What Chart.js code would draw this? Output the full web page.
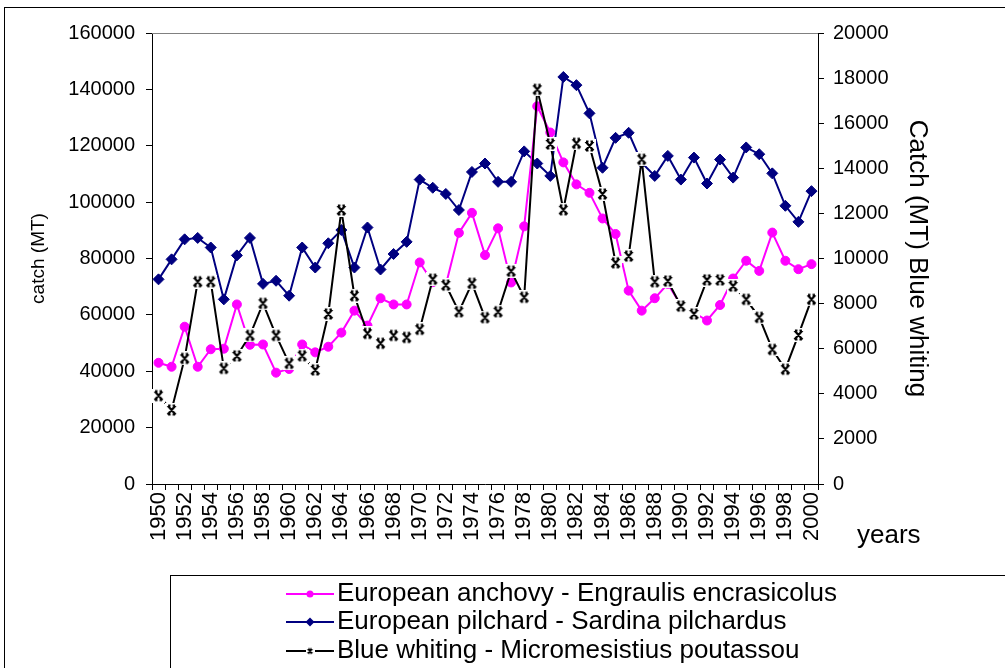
<!DOCTYPE html>
<html>
<head>
<meta charset="utf-8">
<script src="https://cdn.jsdelivr.net/npm/chart.js@4.4.0/dist/chart.umd.min.js"></script>
<style>
  html, body { margin: 0; padding: 0; background: #fff; }
  #wrap { width: 1005px; height: 668px; position: relative; }
</style>
</head>
<body>
<div id="wrap"><canvas id="chart"></canvas></div>
<script>
// Catch data 1950-2000
const years = ['1950','1951','1952','1953','1954','1955','1956','1957','1958','1959',
  '1960','1961','1962','1963','1964','1965','1966','1967','1968','1969',
  '1970','1971','1972','1973','1974','1975','1976','1977','1978','1979',
  '1980','1981','1982','1983','1984','1985','1986','1987','1988','1989',
  '1990','1991','1992','1993','1994','1995','1996','1997','1998','1999','2000'];

// left axis (MT)
const anchovy = [43000, 41600, 55800, 41600, 47800, 48000, 63700, 49400, 49500, 39500,
  40800, 49500, 46700, 48700, 53700, 61500, 56200, 65900, 63700, 63700,
  78600, 71600, 70600, 89100, 96200, 81200, 90700, 71500, 91400, 134000,
  124700, 114100, 106300, 103300, 94200, 88700, 68600, 61500, 65900, 71000,
  63500, 60800, 58000, 63500, 72900, 79200, 75600, 89200, 79200, 76200, 78000];

const pilchard = [72600, 79700, 86800, 87300, 83900, 65500, 81100, 87300, 71000, 72100,
  66800, 83900, 76800, 85400, 90100, 76800, 91000, 76100, 81600, 85900,
  108000, 105100, 102900, 97200, 110700, 113700, 107200, 107200, 118000, 113700,
  109300, 144400, 141500, 131500, 112200, 122800, 124600, 114000, 109300, 116400,
  108000, 115800, 106600, 115100, 108700, 119400, 117000, 110200, 98700, 93000, 103900];

// right axis (MT)
const blueWhiting = [3920, 3280, 5570, 8970, 8970, 5130, 5680, 6590, 8010, 6590,
  5350, 5690, 5060, 7540, 12150, 8350, 6680, 6240, 6590, 6500,
  6860, 9080, 8820, 7640, 8900, 7380, 7640, 9440, 8280, 17500,
  15080, 12160, 15110, 14990, 12860, 9810, 10110, 14400, 8970, 9000,
  7890, 7540, 9050, 9050, 8780, 8190, 7390, 5970, 5090, 6610, 8190];

const seriesNames = [
  'European anchovy - Engraulis encrasicolus',
  'European pilchard - Sardina pilchardus',
  'Blue whiting - Micromesistius poutassou'
];

const FONT = '"Liberation Sans", Arial, sans-serif';

// star marker with a white box behind it, as Excel draws it
function makeStar(w, h, box) {
  const c = document.createElement('canvas');
  c.width = w; c.height = h;
  const g = c.getContext('2d');
  if (box) { g.fillStyle = '#fff'; g.fillRect(0, 0, w, h); }
  g.strokeStyle = '#000';
  g.lineWidth = 2.2;
  const l = 2.5, r = w - 2.5, t = 2.5, b = h - 2.5, cx = w / 2;
  g.beginPath();
  g.moveTo(l, t); g.lineTo(r, b);
  g.moveTo(r, t); g.lineTo(l, b);
  g.moveTo(l + 0.5, t); g.lineTo(cx - 1, t);
  g.moveTo(cx + 1, t); g.lineTo(r - 0.5, t);
  g.moveTo(l + 0.5, b); g.lineTo(cx - 1, b);
  g.moveTo(cx + 1, b); g.lineTo(r - 0.5, b);
  g.stroke();
  return c;
}
const starMarker = makeStar(13, 14, true);
const starSmall = makeStar(9, 10, true);

const decorations = {
  id: 'decorations',
  afterDraw(chart) {
    const ctx = chart.ctx;
    const a = chart.chartArea;
    ctx.save();
    // outer frame
    ctx.strokeStyle = '#000';
    ctx.lineWidth = 1;
    ctx.strokeRect(4.5, 7.5, 1100, 800);
    // plot area top edge
    ctx.strokeStyle = '#808080';
    ctx.beginPath();
    ctx.moveTo(a.left, Math.round(a.top) + 0.5);
    ctx.lineTo(a.right, Math.round(a.top) + 0.5);
    ctx.stroke();

    // "years" label
    ctx.fillStyle = '#000';
    ctx.font = '26px ' + FONT;
    ctx.textBaseline = 'middle';
    ctx.textAlign = 'left';
    ctx.fillText('years', 857, 536);

    // legend box
    ctx.strokeStyle = '#000';
    ctx.strokeRect(170.5, 575.5, 900, 200);
    const rows = [594, 622, 651];
    chart.data.datasets.forEach((ds, i) => {
      const y = rows[i];
      ctx.strokeStyle = ds.borderColor;
      ctx.lineWidth = 2;
      ctx.beginPath();
      ctx.moveTo(286, y);
      ctx.lineTo(334, y);
      ctx.stroke();
      const mx = 310;
      if (i === 0) {
        ctx.fillStyle = ds.borderColor;
        ctx.beginPath();
        ctx.arc(mx, y, 3.5, 0, Math.PI * 2);
        ctx.fill();
      } else if (i === 1) {
        ctx.fillStyle = ds.borderColor;
        ctx.beginPath();
        ctx.moveTo(mx, y - 4.5); ctx.lineTo(mx + 4.5, y);
        ctx.lineTo(mx, y + 4.5); ctx.lineTo(mx - 4.5, y);
        ctx.closePath();
        ctx.fill();
      } else {
        ctx.drawImage(starSmall, mx - 4.5, y - 5);
      }
      ctx.fillStyle = '#000';
      ctx.font = '26px ' + FONT;
      ctx.textAlign = 'left';
      ctx.textBaseline = 'middle';
      ctx.fillText(ds.label, 337, y);
    });
    ctx.restore();
  }
};

const tickFont = { family: FONT, size: 20 };

new Chart(document.getElementById('chart'), {
  type: 'line',
  data: {
    labels: years,
    datasets: [
      {
        label: seriesNames[0],
        data: anchovy,
        yAxisID: 'y',
        borderColor: '#FF00FF',
        backgroundColor: '#FF00FF',
        borderWidth: 2,
        pointStyle: 'circle',
        pointRadius: 4.5,
        pointBorderWidth: 1,
        order: 1
      },
      {
        label: seriesNames[1],
        data: pilchard,
        yAxisID: 'y',
        borderColor: '#000080',
        backgroundColor: '#000080',
        borderWidth: 2,
        pointStyle: 'rectRot',
        pointRadius: 5.5,
        pointBorderWidth: 1,
        order: 2
      },
      {
        label: seriesNames[2],
        data: blueWhiting,
        yAxisID: 'y1',
        borderColor: '#000000',
        backgroundColor: '#000000',
        borderWidth: 2,
        pointStyle: starMarker,
        pointRadius: 6,
        order: 0
      }
    ]
  },
  options: {
    responsive: true,
    maintainAspectRatio: false,
    animation: false,
    events: [],
    layout: { padding: { top: 33, left: 0, right: 0, bottom: 0 } },
    plugins: {
      legend: { display: false },
      tooltip: { enabled: false }
    },
    scales: {
      x: {
        offset: true,
        grid: { offset: true, drawOnChartArea: false, drawTicks: true, tickLength: 6, color: '#000' },
        border: { color: '#000', width: 1 },
        ticks: {
          autoSkip: false,
          minRotation: 90,
          maxRotation: 90,
          padding: 2,
          color: '#000',
          font: { family: FONT, size: 22 },
          callback: (v, i) => (i % 2 === 0 ? years[i] : '')
        },
        afterFit: s => { s.height = 184; }
      },
      y: {
        position: 'left',
        min: 0,
        max: 160000,
        grid: { drawOnChartArea: false, tickLength: 6, color: '#000' },
        border: { color: '#000', width: 1 },
        ticks: { stepSize: 20000, padding: 11, color: '#000', font: tickFont, callback: v => String(v) },
        title: { display: true, text: 'catch (MT)', color: '#000', font: { family: FONT, size: 19 }, padding: { top: 27, bottom: 0 } },
        afterFit: s => { s.width = 152; }
      },
      y1: {
        position: 'right',
        min: 0,
        max: 20000,
        grid: { drawOnChartArea: false, tickLength: 6, color: '#000' },
        border: { color: '#000', width: 1 },
        ticks: { stepSize: 2000, padding: 9, color: '#000', font: tickFont, callback: v => String(v) },
        title: { display: true, text: 'Catch (MT) Blue whiting', color: '#000', font: { family: FONT, size: 26 }, padding: { top: 72, bottom: 0 } },
        afterFit: s => { s.width = 187; }
      }
    }
  },
  plugins: [decorations]
});
</script>
</body>
</html>
